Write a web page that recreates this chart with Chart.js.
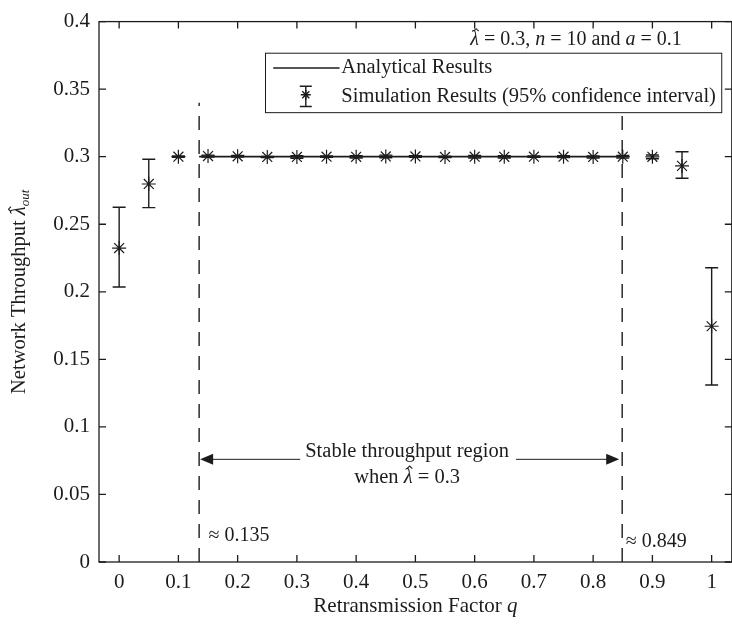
<!DOCTYPE html>
<html>
<head>
<meta charset="utf-8">
<script src="https://cdn.jsdelivr.net/npm/chart.js@4.4.1/dist/chart.umd.min.js"></script>
<style>
    html, body { margin: 0; padding: 0; background: #fff; overflow: hidden; }
    #wrap { width: 740px; height: 624px; }
</style>
</head>
<body>
<div id="wrap"><canvas id="myChart"></canvas></div>
<script>
// Retransmission factor q for each simulation run
var q = [0, 0.05, 0.1, 0.15, 0.2, 0.25, 0.3, 0.35, 0.4, 0.45, 0.5,
         0.55, 0.6, 0.65, 0.7, 0.75, 0.8, 0.85, 0.9, 0.95, 1];

// Simulated throughput with 95% confidence bounds
var simMean = [0.2324, 0.2798, 0.3, 0.3005, 0.3003, 0.2998, 0.2998, 0.3, 0.2999, 0.3002, 0.3002,
               0.2998, 0.3, 0.2999, 0.3, 0.3, 0.2998, 0.3, 0.2999, 0.2932, 0.1745];
var simLow  = [0.2036, 0.2623, 0.2995, 0.2998, 0.2997, 0.2994, 0.2988, 0.2995, 0.299, 0.2992, 0.2996,
               0.2993, 0.299, 0.299, 0.2995, 0.2993, 0.299, 0.299, 0.2985, 0.284, 0.131];
var simHigh = [0.2626, 0.2981, 0.3005, 0.3012, 0.3009, 0.3002, 0.3008, 0.3005, 0.3008, 0.3012, 0.3008,
               0.3003, 0.301, 0.3008, 0.3005, 0.3007, 0.3006, 0.301, 0.3013, 0.3037, 0.2178];

// Analytical throughput inside the stable region
var qAnalytical = [0.135, 0.849];
var analytical = [0.3, 0.3];

// Stable region limits
var stableBounds = [0.135, 0.849];
var stableLabels = ["\u2248 0.135", "\u2248 0.849"];

var xTicks = [0, 0.1, 0.2, 0.3, 0.4, 0.5, 0.6, 0.7, 0.8, 0.9, 1];
var xTickLabels = ["0", "0.1", "0.2", "0.3", "0.4", "0.5", "0.6", "0.7", "0.8", "0.9", "1"];
var yTicks = [0, 0.05, 0.1, 0.15, 0.2, 0.25, 0.3, 0.35, 0.4];
var yTickLabels = ["0", "0.05", "0.1", "0.15", "0.2", "0.25", "0.3", "0.35", "0.4"];

var ink = "#1c1c1c";
var serif = '"Liberation Serif", "Times New Roman", serif';

function fontFor(p) {
    return (p.italic ? "italic " : "") + (p.size || 20) + "px " + serif;
}

// draws a run of text pieces (italic, subscript, hatted) one after another
function drawRich(c, parts, x, y, align) {
    var total = 0;
    parts.forEach(function (p) {
        c.font = fontFor(p);
        p.w = c.measureText(p.t).width;
        total += p.w;
    });
    var cx = align === "center" ? x - total / 2 : x;
    c.textAlign = "left";
    parts.forEach(function (p) {
        var s = p.size || 20, py = y + (p.dy || 0);
        c.font = fontFor(p);
        c.fillText(p.t, cx, py);
        if (p.hat) {
            // circumflex over the letter
            var hx = cx + p.w / 2 + 1.5, hy = py - s * 0.44;
            c.save();
            c.lineWidth = 1.1;
            c.beginPath();
            c.moveTo(hx - s * 0.13, hy);
            c.lineTo(hx, hy - s * 0.12);
            c.lineTo(hx + s * 0.13, hy);
            c.stroke();
            c.restore();
        }
        cx += p.w;
    });
    return total;
}

function arrowHead(c, x, y, dir) {
    c.beginPath();
    c.moveTo(x, y);
    c.lineTo(x - dir * 13, y - 5.5);
    c.lineTo(x - dir * 13, y + 5.5);
    c.closePath();
    c.fill();
}

var frame = {
    id: "frame",
    afterDraw: function (chart) {
        var c = chart.ctx, a = chart.chartArea;
        var xs = chart.scales.x, ys = chart.scales.y;
        c.save();
        c.strokeStyle = ink;
        c.lineWidth = 1.3;
        c.strokeRect(a.left, a.top, a.right - a.left, a.bottom - a.top);
        c.beginPath();
        xTicks.forEach(function (v) {
            var px = xs.getPixelForValue(v);
            c.moveTo(px, a.bottom); c.lineTo(px, a.bottom - 7);
            c.moveTo(px, a.top); c.lineTo(px, a.top + 7);
        });
        yTicks.forEach(function (v) {
            var py = ys.getPixelForValue(v);
            c.moveTo(a.left, py); c.lineTo(a.left + 7, py);
            c.moveTo(a.right, py); c.lineTo(a.right - 7, py);
        });
        c.stroke();

        // axis titles
        c.fillStyle = ink;
        c.textBaseline = "middle";
        drawRich(c, [{t: "Retransmission Factor ", size: 21}, {t: "q", italic: true, size: 21}],
            (a.left + a.right) / 2, 606, "center");
        c.translate(20, (a.top + a.bottom) / 2);
        c.rotate(-Math.PI / 2);
        drawRich(c, [{t: "Network Throughput ", size: 20.5}, {t: "\u03bb", italic: true, size: 20.5, hat: true},
            {t: "out", italic: true, size: 13, dy: 6}], 0, 0, "center");
        c.restore();
    }
};

var guides = {
    id: "guides",
    beforeDatasetsDraw: function (chart) {
        var c = chart.ctx, xs = chart.scales.x, ys = chart.scales.y;
        c.save();
        c.strokeStyle = ink;
        c.lineWidth = 1.4;
        c.setLineDash([14, 10]);
        stableBounds.forEach(function (b) {
            var px = xs.getPixelForValue(b);
            c.beginPath();
            c.moveTo(px, ys.getPixelForValue(0));
            c.lineTo(px, ys.getPixelForValue(0.34));
            c.stroke();
        });
        c.setLineDash([]);

        // stable region arrow with its caption
        c.fillStyle = ink;
        c.textBaseline = "middle";
        var yArrow = ys.getPixelForValue(0.076);
        var xl = xs.getPixelForValue(stableBounds[0]) + 1;
        var xr = xs.getPixelForValue(stableBounds[1]) - 3;
        var xc = xs.getPixelForValue(0.486);
        c.font = fontFor({size: 20.5});
        var tw = c.measureText("Stable throughput region").width;
        c.textAlign = "center";
        c.fillText("Stable throughput region", xc, ys.getPixelForValue(0.0815));
        drawRich(c, [{t: "when ", size: 20.5}, {t: "\u03bb", italic: true, size: 20.5, hat: true},
            {t: " = 0.3", size: 20.5}], xc, ys.getPixelForValue(0.0625), "center");
        c.lineWidth = 1;
        c.beginPath();
        c.moveTo(xl + 10, yArrow); c.lineTo(xc - tw / 2 - 5, yArrow);
        c.moveTo(xc + tw / 2 + 7, yArrow); c.lineTo(xr - 10, yArrow);
        c.stroke();
        arrowHead(c, xl, yArrow, -1);
        arrowHead(c, xr, yArrow, 1);

        c.font = fontFor({size: 20});
        c.textAlign = "left";
        c.fillText(stableLabels[0], xs.getPixelForValue(0.151), ys.getPixelForValue(0.0195));
        c.fillText(stableLabels[1], xs.getPixelForValue(0.855), ys.getPixelForValue(0.0148));
        c.restore();
    }
};

var errorBars = {
    id: "errorBars",
    afterDatasetsDraw: function (chart) {
        var c = chart.ctx, xs = chart.scales.x, ys = chart.scales.y;
        c.save();
        c.strokeStyle = ink;
        c.lineWidth = 1.4;
        c.beginPath();
        for (var i = 0; i < q.length; i++) {
            var px = xs.getPixelForValue(q[i]);
            var lo = ys.getPixelForValue(simLow[i]);
            var hi = ys.getPixelForValue(simHigh[i]);
            c.moveTo(px, lo); c.lineTo(px, hi);
            c.moveTo(px - 6.5, lo); c.lineTo(px + 6.5, lo);
            c.moveTo(px - 6.5, hi); c.lineTo(px + 6.5, hi);
        }
        c.stroke();
        c.restore();
    }
};

var legendBox = {
    id: "legendBox",
    afterDraw: function (chart) {
        var c = chart.ctx, xs = chart.scales.x, ys = chart.scales.y;
        c.save();
        c.fillStyle = ink;
        c.strokeStyle = ink;
        c.textBaseline = "middle";
        drawRich(c, [{t: "\u03bb", italic: true, hat: true}, {t: " = 0.3, "}, {t: "n", italic: true},
            {t: " = 10 and "}, {t: "a", italic: true}, {t: " = 0.1"}],
            xs.getPixelForValue(0.771), ys.getPixelForValue(0.3865), "center");

        var l = xs.getPixelForValue(0.247), r = xs.getPixelForValue(1.017);
        var t = ys.getPixelForValue(0.3766), b = ys.getPixelForValue(0.3326);
        c.fillStyle = "#fff";
        c.fillRect(l, t, r - l, b - t);
        c.lineWidth = 1;
        c.strokeRect(l, t, r - l, b - t);

        var row1 = ys.getPixelForValue(0.3657), row2 = ys.getPixelForValue(0.3442);
        c.lineWidth = 1.6;
        c.beginPath();
        c.moveTo(xs.getPixelForValue(0.26), row1);
        c.lineTo(xs.getPixelForValue(0.372), row1);
        c.stroke();

        var ix = xs.getPixelForValue(0.315);
        var it = ys.getPixelForValue(0.3522), ib = ys.getPixelForValue(0.3372);
        c.lineWidth = 1.4;
        c.beginPath();
        c.moveTo(ix, it); c.lineTo(ix, ib);
        c.moveTo(ix - 6, it); c.lineTo(ix + 6, it);
        c.moveTo(ix - 6, ib); c.lineTo(ix + 6, ib);
        c.stroke();
        Chart.helpers.drawPoint(c, {pointStyle: "star", radius: 5, borderWidth: 1.1},
            ix, ys.getPixelForValue(0.3459));

        c.fillStyle = ink;
        c.font = fontFor({size: 20.5});
        c.textAlign = "left";
        var tx = xs.getPixelForValue(0.375);
        c.fillText("Analytical Results", tx, row1);
        c.fillText("Simulation Results (95% confidence interval)", tx, row2);
        c.restore();
    }
};

var ctx = document.getElementById("myChart");
var myChart = new Chart(ctx, {
    type: "scatter",
    data: {
        datasets: [{
            label: "Analytical Results",
            data: qAnalytical.map(function (x, i) { return {x: x, y: analytical[i]}; }),
            showLine: true,
            borderColor: ink,
            borderWidth: 1.7,
            pointRadius: 0
        }, {
            label: "Simulation Results (95% confidence interval)",
            data: q.map(function (x, i) { return {x: x, y: simMean[i]}; }),
            showLine: false,
            pointStyle: "star",
            pointRadius: 7,
            borderColor: ink,
            backgroundColor: ink,
            borderWidth: 1.2
        }]
    },
    options: {
        responsive: true,
        maintainAspectRatio: false,
        animation: false,
        layout: {padding: {top: 14, right: 2, left: 0, bottom: 0}},
        plugins: {
            legend: {display: false},
            tooltip: {enabled: false}
        },
        scales: {
            x: {
                type: "linear",
                min: -0.034,
                max: 1.034,
                grid: {display: false, drawTicks: false},
                border: {display: false},
                afterBuildTicks: function (s) { s.ticks = xTicks.map(function (v) { return {value: v}; }); },
                afterFit: function (s) { s.height = 62; },
                ticks: {
                    font: {family: serif, size: 21},
                    color: ink,
                    padding: 8,
                    maxRotation: 0,
                    autoSkip: false,
                    callback: function (v, i) { return xTickLabels[i]; }
                }
            },
            y: {
                min: 0,
                max: 0.4,
                grid: {display: false, drawTicks: false},
                border: {display: false},
                afterBuildTicks: function (s) { s.ticks = yTicks.map(function (v) { return {value: v}; }); },
                afterFit: function (s) { s.width = 99; },
                ticks: {
                    font: {family: serif, size: 21},
                    color: ink,
                    padding: 9,
                    autoSkip: false,
                    callback: function (v, i) { return yTickLabels[i]; }
                }
            }
        }
    },
    plugins: [guides, errorBars, frame, legendBox]
});
</script>
</body>
</html>
